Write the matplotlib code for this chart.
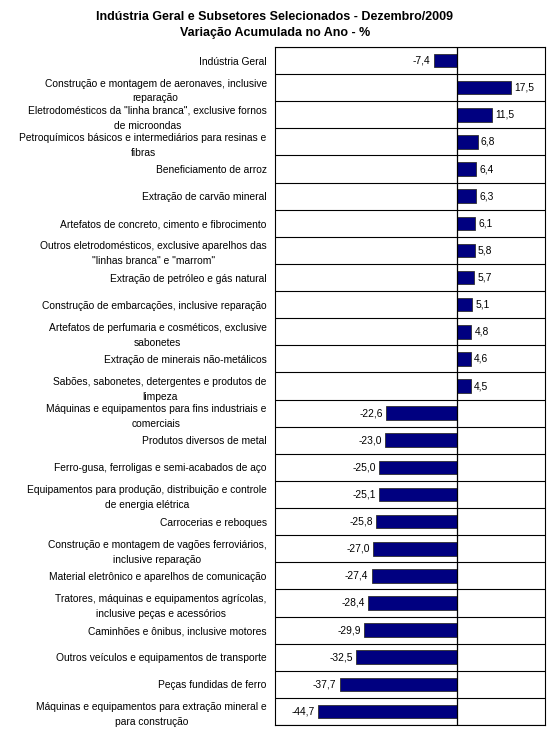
import numpy as np
import matplotlib
matplotlib.use('Agg')
import matplotlib.pyplot as plt

plt.rcParams['font.family'] = ['Liberation Sans', 'DejaVu Sans']

categories = [
    'Indústria Geral',
    'Construção e montagem de aeronaves, inclusive\nreparação',
    'Eletrodomésticos da "linha branca", exclusive fornos\nde microondas',
    'Petroquímicos básicos e intermediários para resinas e\nfibras',
    'Beneficiamento de arroz',
    'Extração de carvão mineral',
    'Artefatos de concreto, cimento e fibrocimento',
    'Outros eletrodomésticos, exclusive aparelhos das\n"linhas branca" e "marrom"',
    'Extração de petróleo e gás natural',
    'Construção de embarcações, inclusive reparação',
    'Artefatos de perfumaria e cosméticos, exclusive\nsabonetes',
    'Extração de minerais não-metálicos',
    'Sabões, sabonetes, detergentes e produtos de\nlimpeza',
    'Máquinas e equipamentos para fins industriais e\ncomerciais',
    'Produtos diversos de metal',
    'Ferro-gusa, ferroligas e semi-acabados de aço',
    'Equipamentos para produção, distribuição e controle\nde energia elétrica',
    'Carrocerias e reboques',
    'Construção e montagem de vagões ferroviários,\ninclusive reparação',
    'Material eletrônico e aparelhos de comunicação',
    'Tratores, máquinas e equipamentos agrícolas,\ninclusive peças e acessórios',
    'Caminhões e ônibus, inclusive motores',
    'Outros veículos e equipamentos de transporte',
    'Peças fundidas de ferro',
    'Máquinas e equipamentos para extração mineral e\npara construção',
]
values = [-7.4, 17.5, 11.5, 6.8, 6.4, 6.3, 6.1, 5.8, 5.7, 5.1, 4.8, 4.6, 4.5,
          -22.6, -23.0, -25.0, -25.1, -25.8, -27.0, -27.4, -28.4, -29.9,
          -32.5, -37.7, -44.7]

fig = plt.figure(figsize=(5.5, 7.31), dpi=100)
ax = fig.add_axes([0.5, 0.0082, 0.4909, 0.9275])

n = len(values)
y = np.arange(n)
ax.barh(y, values, height=0.5, color='#000080', edgecolor='#303030', linewidth=0.6, zorder=3)
ax.set_ylim(n - 0.5, -0.5)
ax.set_xlim(-58.5, 28.5)

for i in range(n + 1):
    ax.axhline(i - 0.5, color='black', linewidth=0.8, zorder=2)
ax.axvline(0, color='black', linewidth=0.9, zorder=4)

for i, v in enumerate(values):
    txt = f'{v:.1f}'.replace('.', ',')
    if v < 0:
        ax.text(v - 1.0, i, txt, ha='right', va='center', fontsize=7.4)
    else:
        ax.text(v + 1.0, i, txt, ha='left', va='center', fontsize=7.4)

ax.set_yticks(y)
ax.set_yticklabels(categories, fontsize=7.4, multialignment='center', linespacing=1.6)
ax.tick_params(axis='y', length=0, pad=6)
ax.set_xticks([])
for s in ax.spines.values():
    s.set_linewidth(0.8)
    s.set_color('black')

fig.text(0.5, 0.977, 'Indústria Geral e Subsetores Selecionados - Dezembro/2009',
         ha='center', va='center', fontsize=9, fontweight='bold')
fig.text(0.5, 0.955, 'Variação Acumulada no Ano - %',
         ha='center', va='center', fontsize=9, fontweight='bold')

fig.savefig('out.png', dpi=100)
